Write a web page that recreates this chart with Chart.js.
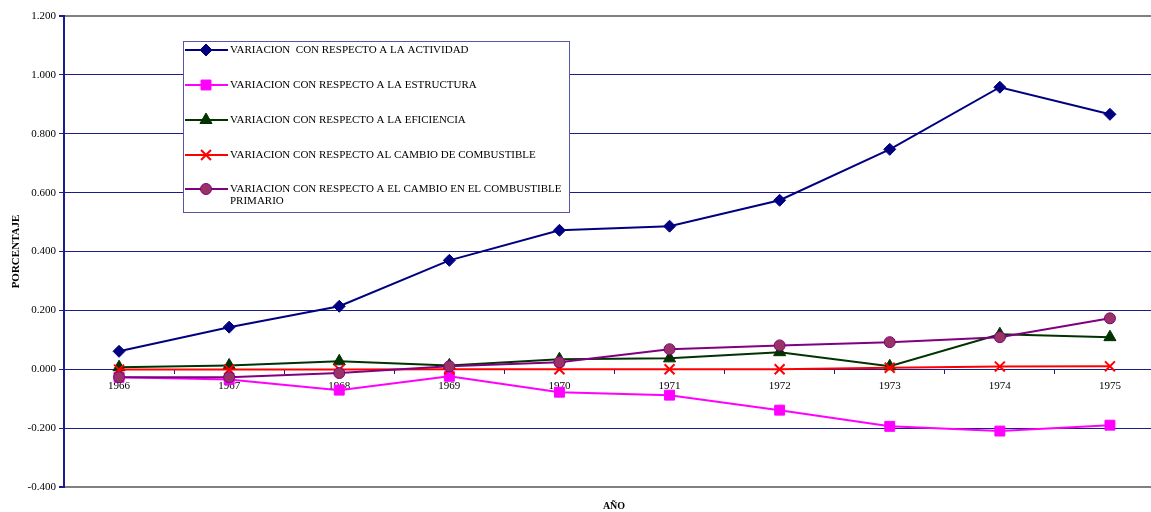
<!DOCTYPE html>
<html><head><meta charset="utf-8">
<script src="https://cdn.jsdelivr.net/npm/chart.js@4/dist/chart.umd.min.js"></script>
<style>html,body{margin:0;padding:0;background:#fff;overflow:hidden}#wrap{width:1174px;height:512px}</style>
</head><body><div id="wrap"><canvas id="c" width="1174" height="512"></canvas></div>
<script>
const years = ['1966','1967','1968','1969','1970','1971','1972','1973','1974','1975'];
const actividad = [0.061, 0.143, 0.214, 0.370, 0.472, 0.486, 0.574, 0.747, 0.958, 0.866];
const estructura = [-0.027, -0.035, -0.071, -0.024, -0.078, -0.088, -0.139, -0.194, -0.210, -0.190];
const eficiencia = [0.007, 0.013, 0.027, 0.013, 0.034, 0.037, 0.058, 0.010, 0.119, 0.109];
const combustible = [-0.001, -0.001, -0.001, 0.000, 0.000, 0.000, 0.000, 0.005, 0.009, 0.010];
const primario = [-0.027, -0.027, -0.013, 0.010, 0.024, 0.068, 0.081, 0.092, 0.109, 0.173];
const seriesNames = [
  'VARIACION  CON RESPECTO A LA ACTIVIDAD',
  'VARIACION CON RESPECTO A LA ESTRUCTURA',
  'VARIACION CON RESPECTO A LA EFICIENCIA',
  'VARIACION CON RESPECTO AL CAMBIO DE COMBUSTIBLE',
  'VARIACION CON RESPECTO A EL CAMBIO EN EL COMBUSTIBLE\nPRIMARIO'
];
const yTicks = {min: -0.4, max: 1.2, step: 0.2};
const xTitle = 'AÑO';
const yTitle = 'PORCENTAJE';

const FONT = '"Liberation Serif", "Times New Roman", serif';
const NAVY = '#1c1c8a';

function ds(label, data, color, style, radius, fill, order, pbw) {
  return {label, data, borderColor: color, backgroundColor: fill || color,
    pointBackgroundColor: fill || color, pointBorderColor: color, pointBorderWidth: pbw || 1,
    pointStyle: style, pointRadius: radius, pointHoverRadius: radius, borderWidth: 2,
    tension: 0, fill: false, order};
}

const legendPlugin = {
  id: 'boxLegend',
  afterDraw(chart) {
    const ctx = chart.ctx;
    ctx.save();
    ctx.font = 'bold 10px ' + FONT;
    ctx.fillStyle = '#000';
    ctx.textAlign = 'center';
    ctx.textBaseline = 'middle';
    ctx.fillText(xTitle, 614, 506);
    const bx = 183.5, by = 41.5, bw = 386, bh = 171;
    ctx.fillStyle = '#fff';
    ctx.fillRect(bx, by, bw, bh);
    ctx.strokeStyle = '#5656a6';
    ctx.lineWidth = 1;
    ctx.strokeRect(bx, by, bw, bh);
    const rows = [50, 85, 120, 155, 189];
    chart.data.datasets.forEach((d, i) => {
      const y = rows[i];
      ctx.strokeStyle = d.borderColor;
      ctx.lineWidth = 2;
      ctx.beginPath(); ctx.moveTo(185, y); ctx.lineTo(228, y); ctx.stroke();
      ctx.fillStyle = d.pointBackgroundColor;
      ctx.strokeStyle = d.pointBorderColor;
      ctx.lineWidth = d.pointBorderWidth;
      Chart.helpers.drawPoint(ctx, {pointStyle: d.pointStyle, radius: d.pointRadius, rotation: 0, borderWidth: d.pointBorderWidth}, 206, y);
      ctx.fillStyle = '#000';
      ctx.font = '11px ' + FONT;
      ctx.textAlign = 'left';
      ctx.textBaseline = 'middle';
      d.label.split('\n').forEach((line, k) => ctx.fillText(line, 230, y + k * 12.5));
    });
    ctx.restore();
  }
};

const isEdge = v => Math.abs(v - yTicks.max) < 1e-6 || Math.abs(v - yTicks.min) < 1e-6;

new Chart(document.getElementById('c'), {
  type: 'line',
  data: {
    labels: years,
    datasets: [
      ds(seriesNames[0], actividad, '#000080', 'rectRot', 6, null, 5),
      ds(seriesNames[1], estructura, '#ff00ff', 'rect', 7, null, 4),
      ds(seriesNames[2], eficiencia, '#003300', 'triangle', 7, null, 3),
      ds(seriesNames[3], combustible, '#ff0000', 'crossRot', 7, null, 2, 2),
      ds(seriesNames[4], primario, '#800080', 'circle', 5.5, '#993366', 1)
    ]
  },
  options: {
    responsive: false,
    animation: false,
    devicePixelRatio: 1,
    layout: {padding: {top: 16, bottom: 25, right: 5, left: 0}},
    plugins: {legend: {display: false}, tooltip: {enabled: false}},
    scales: {
      x: {
        type: 'category',
        position: {y: 0},
        offset: true,
        grid: {drawOnChartArea: false, drawTicks: true, tickLength: 4, offset: true, color: NAVY, lineWidth: 1},
        border: {color: NAVY, width: 1},
        ticks: {color: '#000', font: {family: FONT, size: 11}, padding: 6, maxRotation: 0, autoSkip: false}
      },
      y: {
        min: yTicks.min, max: yTicks.max,
        afterFit(scale) { scale.width = 64; },
        ticks: {stepSize: yTicks.step, color: '#000', font: {family: FONT, size: 11}, padding: 3,
          callback: v => Number(v).toFixed(3)},
        grid: {
          color: c => (c.tick && isEdge(c.tick.value)) ? '#808080' : NAVY,
          lineWidth: c => (c.tick && isEdge(c.tick.value)) ? 2 : 1,
          tickColor: NAVY, tickLength: 5, drawTicks: true
        },
        border: {color: NAVY, width: 2},
        title: {display: true, text: yTitle, color: '#000', font: {family: FONT, size: 11, weight: 'bold'}, padding: {top: 10, bottom: 0}}
      }
    }
  },
  plugins: [legendPlugin]
});
</script>
</body></html>
